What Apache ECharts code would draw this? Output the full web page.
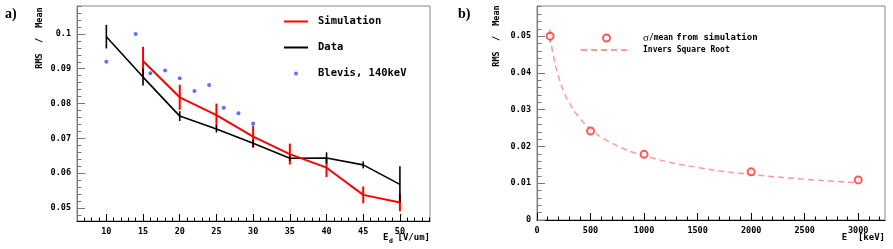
<!DOCTYPE html>
<html><head><meta charset="utf-8">
<script src="https://cdn.jsdelivr.net/npm/echarts@6/dist/echarts.min.js"></script>
<style>html,body{margin:0;padding:0;background:#fff}#c{width:893px;height:249px}</style>
</head><body><div id="c"></div>
<script>
// ---- Panel a) ----
const simX = [15, 20, 25, 30, 35, 40, 45, 50];
const simY = [0.0922, 0.0818, 0.0767, 0.0705, 0.0655, 0.0616, 0.0538, 0.0516];
const simErr = [0.0041, 0.0036, 0.0033, 0.0032, 0.0030, 0.0027, 0.0024, 0.0025];
const dataX = [10, 15, 20, 25, 30, 35, 40, 45, 50];
const dataY = [0.0992, 0.0876, 0.0764, 0.0727, 0.0686, 0.0643, 0.0644, 0.0624, 0.0568];
const dataErr = [0.0034, 0.0024, 0.0014, 0.0010, 0.0010, 0.0008, 0.0016, 0.0010, 0.0052];
const blevisX = [10, 14, 16, 18, 20, 22, 24, 26, 28, 30];
const blevisY = [0.0920, 0.1000, 0.0887, 0.0895, 0.0873, 0.0836, 0.0853, 0.0788, 0.0772, 0.0743];
const aXTicks = [10, 15, 20, 25, 30, 35, 40, 45, 50];
const aYTicks = [0.05, 0.06, 0.07, 0.08, 0.09, 0.1];
// ---- Panel b) ----
const energyX = [122, 500, 1000, 2000, 3000];
const energyY = [0.0500, 0.0242, 0.01785, 0.0131, 0.0109];
const energyErr = [0.0018, 0.0005, 0.0004, 0.0004, 0.0003];
const fitX = [122, 150, 200, 250, 300, 400, 500, 700, 1000, 1500, 2000, 2500, 3000];
const fitY = [0.0500, 0.0451, 0.0391, 0.0350, 0.0319, 0.0277, 0.0247, 0.0209, 0.0175, 0.0143, 0.0124, 0.0111, 0.0101];
const bXTicks = [0, 500, 1000, 1500, 2000, 2500, 3000];
const bYTicks = [0, 0.01, 0.02, 0.03, 0.04, 0.05];

const MONO = '"DejaVu Sans Mono", "Liberation Mono", monospace';
const range = (a, b, s) => { const r = []; for (let v = a; v <= b + 1e-9; v += s) r.push(+v.toFixed(6)); return r; };
const aXMinor = range(7, 54, 1).filter(v => !aXTicks.includes(v));
const aYMinor = range(0.048, 0.108, 0.002).filter(v => !aYTicks.some(t => Math.abs(t - v) < 1e-9));
const bXMinor = range(100, 3200, 100).filter(v => v % 500 !== 0);
const bYMinor = range(0.002, 0.058, 0.002).filter(v => !bYTicks.some(t => Math.abs(t - v) < 1e-9));

const A = {xmin: 6, xmax: 54.1, ymin: 0.0463, ymax: 0.108};
const B = {xmin: 0, xmax: 3250, ymin: 0, ymax: 0.0582};

const lbl = {fontFamily: MONO, fontWeight: 'bold', fontSize: 8.5, color: '#000'};
function xMajor(grid, r, ticks, fmt) {
  return {type: 'value', gridIndex: grid, position: 'bottom', min: r.xmin, max: r.xmax,
    axisLine: {show: true, lineStyle: {color: '#000', width: 1}},
    axisTick: {show: true, inside: true, length: 7, customValues: ticks, lineStyle: {color: '#000'}},
    axisLabel: {show: true, customValues: ticks, margin: 6, ...lbl, formatter: fmt},
    splitLine: {show: false}};
}
function xMinor(grid, r, ticks) {
  return {type: 'value', gridIndex: grid, position: 'bottom', min: r.xmin, max: r.xmax,
    axisLine: {show: false}, axisLabel: {show: false}, splitLine: {show: false},
    axisTick: {show: true, inside: true, length: 3.5, customValues: ticks, lineStyle: {color: '#000'}}};
}
function yMajor(grid, r, ticks, fmt) {
  return {type: 'value', gridIndex: grid, position: 'left', min: r.ymin, max: r.ymax,
    axisLine: {show: true, lineStyle: {color: '#777', width: 1}},
    axisTick: {show: true, inside: true, length: 8, customValues: ticks, lineStyle: {color: '#777'}},
    axisLabel: {show: true, customValues: ticks, margin: 6, ...lbl, formatter: fmt},
    splitLine: {show: false}};
}
function yMinor(grid, r, ticks) {
  return {type: 'value', gridIndex: grid, position: 'left', min: r.ymin, max: r.ymax,
    axisLine: {show: false}, axisLabel: {show: false}, splitLine: {show: false},
    axisTick: {show: true, inside: true, length: 4.5, customValues: ticks, lineStyle: {color: '#777'}}};
}
function errBars(name, xs, ys, es, color, w, xi, yi) {
  return {type: 'custom', name: name + ' err', xAxisIndex: xi, yAxisIndex: yi, silent: true, z: 3,
    data: xs.map((x, i) => [x, ys[i], es[i]]), encode: {x: 0, y: 1},
    renderItem(params, api) {
      const x = api.value(0), y = api.value(1), e = api.value(2);
      const p1 = api.coord([x, y + e]), p2 = api.coord([x, y - e]);
      return {type: 'line', shape: {x1: p1[0], y1: p1[1], x2: p2[0], y2: p2[1]}, style: {stroke: color, lineWidth: w}};
    }};
}
const fmtA = v => { const s = (+v).toFixed(2); return Math.abs(v - 0.1) < 1e-9 ? '0.1' : s; };
const fmtB = v => Math.abs(v) < 1e-12 ? '0' : (+v).toFixed(2);

const chart = echarts.init(document.getElementById('c'), null, {renderer: 'canvas'});
chart.setOption({
  animation: false,
  backgroundColor: '#fff',
  grid: [
    {left: 77, top: 6, width: 353, height: 215, show: true, borderColor: '#888', borderWidth: 1, backgroundColor: 'transparent'},
    {left: 537, top: 6, width: 348, height: 214, show: true, borderColor: '#888', borderWidth: 1, backgroundColor: 'transparent'}
  ],
  xAxis: [xMajor(0, A, aXTicks, v => String(v)), xMinor(0, A, aXMinor), xMajor(1, B, bXTicks, v => String(v)), xMinor(1, B, bXMinor)],
  yAxis: [yMajor(0, A, aYTicks, fmtA), yMinor(0, A, aYMinor), yMajor(1, B, bYTicks, fmtB), yMinor(1, B, bYMinor)],
  legend: [
    {left: 283, top: 16, padding: 0, orient: 'vertical', itemGap: 15, itemWidth: 24, itemHeight: 4,
      data: [{name: 'Simulation', itemStyle: {opacity: 0}}, {name: 'Data', itemStyle: {opacity: 0}}, {name: 'Blevis, 140keV', icon: 'circle'}],
      textStyle: {fontFamily: MONO, fontWeight: 'bold', fontSize: 10.5, color: '#000', padding: [0, 0, 0, 5]}},
    {left: 602, top: 32, padding: 0, itemWidth: 7, itemHeight: 7,
      data: [{name: 'σ/mean from simulation', icon: 'emptyCircle'}],
      formatter: () => '{s|σ}{m|/mean} {f|from simulation}',
      textStyle: {color: '#000', rich: {
        s: {fontFamily: '"Liberation Serif", serif', fontSize: 11, color: '#000', padding: [0, 0, 0, 28]},
        m: {fontFamily: MONO, fontWeight: 'bold', fontSize: 8, color: '#000'},
        f: {fontFamily: MONO, fontWeight: 'bold', fontSize: 9, color: '#000'}}}},
    {left: 580, top: 46, padding: 0, itemWidth: 47, itemHeight: 9,
      data: [{name: 'Invers Square Root', itemStyle: {opacity: 0}}],
      textStyle: {fontFamily: MONO, fontWeight: 'bold', fontSize: 8, color: '#000', padding: [0, 0, 0, 10]}}
  ],
  graphic: [
    {type: 'text', x: 5, y: 7, style: {text: 'a)', font: 'bold 14px "Liberation Serif", serif', fill: '#000'}},
    {type: 'text', x: 458, y: 7, style: {text: 'b)', font: 'bold 14px "Liberation Serif", serif', fill: '#000'}},
    {type: 'text', x: 40, y: 38, rotation: Math.PI / 2, style: {text: 'RMS  /  Mean', font: 'bold 8.5px ' + MONO, fill: '#000', align: 'center', verticalAlign: 'middle'}},
    {type: 'text', x: 497, y: 36, rotation: Math.PI / 2, style: {text: 'RMS  /  Mean', font: 'bold 8.5px ' + MONO, fill: '#000', align: 'center', verticalAlign: 'middle'}},
    {type: 'text', x: 383, y: 233, style: {text: 'E', font: 'bold 9px ' + MONO, fill: '#000'}},
    {type: 'text', x: 389, y: 238, style: {text: 'd', font: 'bold 6.5px ' + MONO, fill: '#000'}},
    {type: 'text', x: 430, y: 233, style: {text: '[V/um]', font: 'bold 9px ' + MONO, fill: '#000', align: 'right'}},
    {type: 'text', x: 885, y: 233, style: {text: 'E  [keV]', font: 'bold 9px ' + MONO, fill: '#000', align: 'right'}}
  ],
  series: [
    {type: 'line', name: 'Simulation', xAxisIndex: 0, yAxisIndex: 0, symbol: 'none', z: 4,
      data: simX.map((x, i) => [x, simY[i]]), lineStyle: {color: '#ff0000', width: 2}, itemStyle: {color: '#ff0000'}},
    errBars('Simulation', simX, simY, simErr, '#ff0000', 2, 0, 0),
    {type: 'line', name: 'Data', xAxisIndex: 0, yAxisIndex: 0, symbol: 'none', z: 3,
      data: dataX.map((x, i) => [x, dataY[i]]), lineStyle: {color: '#000', width: 1.6}, itemStyle: {color: '#000'}},
    errBars('Data', dataX, dataY, dataErr, '#000', 1.6, 0, 0),
    {type: 'scatter', name: 'Blevis, 140keV', xAxisIndex: 0, yAxisIndex: 0, symbol: 'circle', symbolSize: 4,
      data: blevisX.map((x, i) => [x, blevisY[i]]), itemStyle: {color: '#4f5fff', opacity: 0.9}},
    {type: 'line', name: 'Invers Square Root', xAxisIndex: 2, yAxisIndex: 2, symbol: 'none', smooth: true,
      data: fitX.map((x, i) => [x, fitY[i]]), lineStyle: {color: '#ff9a9a', width: 1.5, type: [6, 4]}, itemStyle: {color: '#ff9a9a'}},
    errBars('σ/mean', energyX, energyY, energyErr, '#ff6666', 1.2, 2, 2),
    {type: 'scatter', name: 'σ/mean from simulation', xAxisIndex: 2, yAxisIndex: 2, symbol: 'emptyCircle', symbolSize: 7, z: 5,
      data: energyX.map((x, i) => [x, energyY[i]]), itemStyle: {color: '#ff3030', borderColor: '#ff3030', borderWidth: 1.2}}
  ]
});
</script></body></html>
